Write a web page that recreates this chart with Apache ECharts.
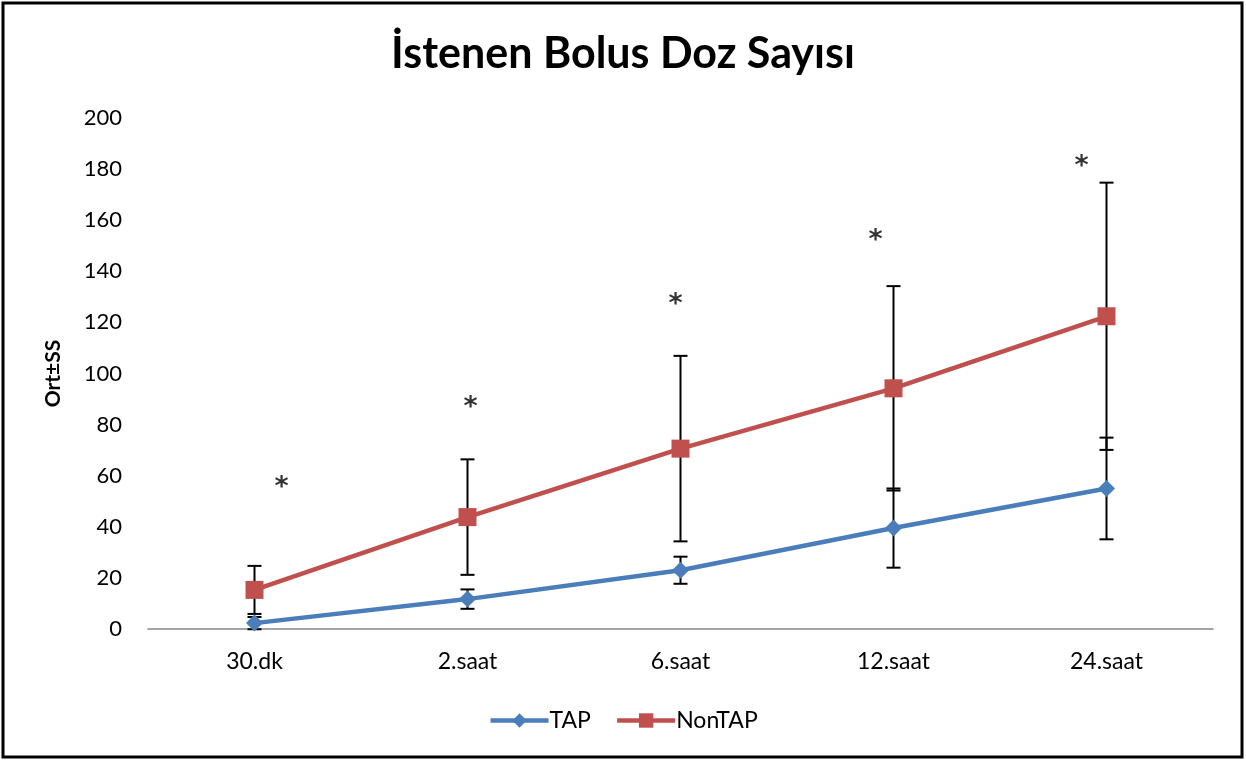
<!DOCTYPE html>
<html>
<head>
<meta charset="utf-8">
<script src="https://cdn.jsdelivr.net/npm/echarts@6/dist/echarts.min.js"></script>
<style>
  html, body { margin: 0; padding: 0; background: #fff; }
  #chart { width: 1246px; height: 761px; }
</style>
</head>
<body>
<div id="chart"></div>
<script>
// Requested bolus doses over time (mean ± SD)
const categories = ['30.dk', '2.saat', '6.saat', '12.saat', '24.saat'];
const tapMean = [2.3, 11.7, 23.0, 39.5, 55.0];
const tapSD = [2.4, 3.8, 5.3, 15.5, 19.9];
const nonTapMean = [15.3, 43.8, 70.6, 94.2, 122.4];
const nonTapSD = [9.4, 22.6, 36.3, 40.0, 52.3];
// significance markers: height on the value axis and horizontal nudge in px
const starValues = [55, 86.5, 127, 152, 181];
const starShift = [27, 3, -5, -18, -25];

const FONT = 'Lato, "Open Sans", sans-serif';
const BLUE = '#4A7EBB';
const RED = '#C0504D';

function errorData(mean, sd) {
  return mean.map((m, i) => [i, m - sd[i], m + sd[i]]);
}

function renderError(params, api) {
  const x = api.value(0);
  const lo = api.coord([x, api.value(1)]);
  const hi = api.coord([x, api.value(2)]);
  const half = 7;
  const style = { stroke: '#000', lineWidth: 2 };
  return {
    type: 'group',
    children: [
      { type: 'line', shape: { x1: hi[0], y1: hi[1], x2: lo[0], y2: lo[1] }, style },
      { type: 'line', shape: { x1: hi[0] - half, y1: hi[1], x2: hi[0] + half, y2: hi[1] }, style },
      { type: 'line', shape: { x1: lo[0] - half, y1: lo[1], x2: lo[0] + half, y2: lo[1] }, style }
    ]
  };
}

const chart = echarts.init(document.getElementById('chart'), null, { renderer: 'canvas' });
chart.setOption({
  animation: false,
  backgroundColor: '#fff',
  textStyle: { fontFamily: FONT },
  title: {
    text: 'İstenen Bolus Doz Sayısı',
    left: 'center',
    top: 28,
    textStyle: { fontFamily: FONT, fontSize: 43, fontWeight: 'bold', color: '#000' }
  },
  graphic: [{
    type: 'rect',
    shape: { x: 3, y: 3, width: 1239, height: 754 },
    style: { fill: 'none', stroke: '#000', lineWidth: 3 },
    silent: true
  }],
  legend: {
    bottom: 24,
    left: 'center',
    itemWidth: 58,
    itemHeight: 18,
    itemGap: 24,
    data: ['TAP', 'NonTAP'],
    lineStyle: { width: 4.5 },
    textStyle: { fontFamily: FONT, fontSize: 23, color: '#000', padding: [0, 0, 0, -4] }
  },
  grid: { left: 148, right: 33, top: 118, bottom: 132, containLabel: false },
  xAxis: {
    type: 'category',
    data: categories,
    boundaryGap: true,
    axisLine: { lineStyle: { color: '#868686', width: 1.5 } },
    axisTick: { show: false },
    axisLabel: { color: '#000', fontSize: 23, fontFamily: FONT, margin: 21 }
  },
  yAxis: {
    type: 'value',
    min: 0,
    max: 200,
    interval: 20,
    name: 'Ort±SS',
    nameLocation: 'middle',
    nameGap: 84,
    nameRotate: 90,
    nameTextStyle: { fontFamily: FONT, fontSize: 21, fontWeight: 'bold', color: '#000' },
    axisLine: { show: false },
    axisTick: { show: false },
    splitLine: { show: false },
    axisLabel: { color: '#000', fontSize: 22, fontFamily: FONT, margin: 26 }
  },
  series: [
    {
      name: 'TAP error',
      type: 'custom',
      renderItem: renderError,
      data: errorData(tapMean, tapSD),
      z: 1,
      silent: true
    },
    {
      name: 'NonTAP error',
      type: 'custom',
      renderItem: renderError,
      data: errorData(nonTapMean, nonTapSD),
      z: 1,
      silent: true
    },
    {
      name: 'TAP',
      type: 'line',
      data: tapMean,
      color: BLUE,
      lineStyle: { width: 4.5, color: BLUE },
      symbol: 'diamond',
      symbolSize: 17,
      itemStyle: { color: BLUE },
      z: 3
    },
    {
      name: 'NonTAP',
      type: 'line',
      data: nonTapMean,
      color: RED,
      lineStyle: { width: 4.5, color: RED },
      symbol: 'rect',
      symbolSize: 18,
      itemStyle: { color: RED },
      z: 4
    },
    {
      name: 'stars',
      type: 'scatter',
      data: starValues,
      symbolSize: 0,
      silent: true,
      z: 5,
      label: {
        show: true,
        position: 'inside',
        formatter: '*',
        fontFamily: '"DejaVu Sans", sans-serif',
        fontSize: 27,
        fontWeight: 'bold',
        color: '#000',
        offset: [0, 9]
      },
      labelLayout: function (p) {
        return { dx: starShift[p.dataIndex] };
      }
    }
  ]
});
</script>
</body>
</html>
